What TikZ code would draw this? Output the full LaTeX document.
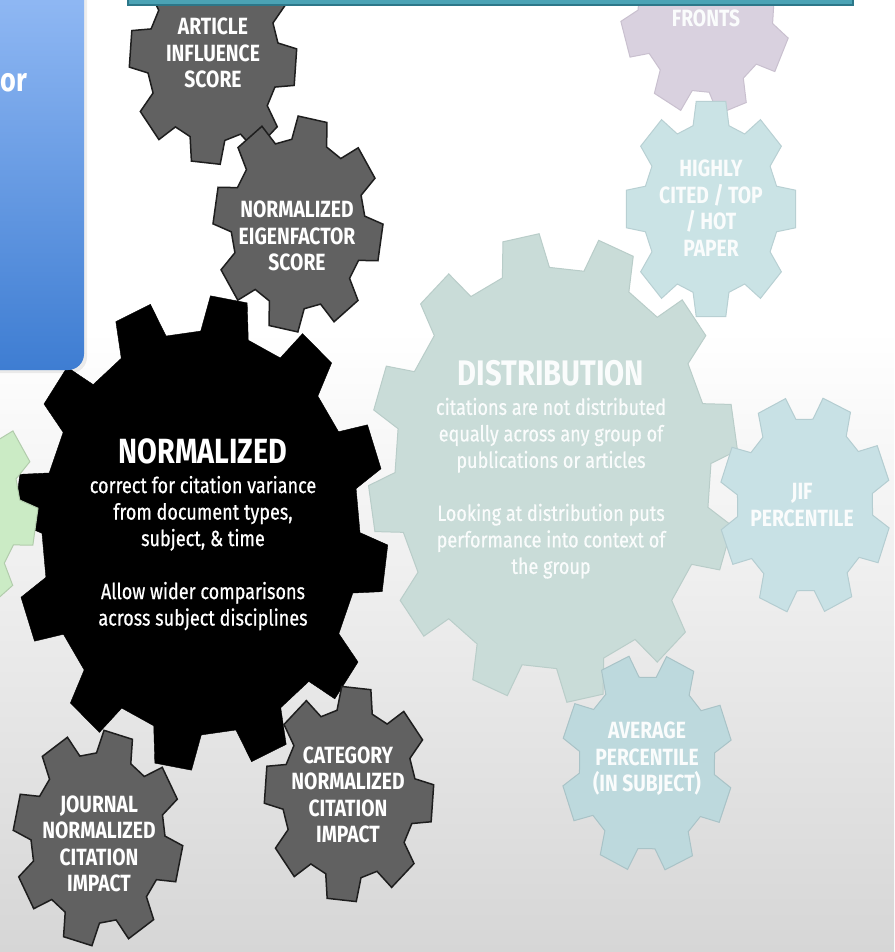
\documentclass[tikz,border=0pt]{standalone}
\usepackage{fontspec}
\newfontfamily\cogfont{Fira Sans}[FakeStretch=0.82]
\newfontfamily\cogbody{Fira Sans}[FakeStretch=0.82,FakeBold=0.6]
\usepackage{tikz}

\definecolor{bgbottom}{HTML}{D6D6D6}
\definecolor{boxtop}{HTML}{95BCF6}
\definecolor{boxbot}{HTML}{3E7DD2}
\definecolor{barfill}{HTML}{4BA3B5}
\definecolor{barline}{HTML}{2C7789}
\definecolor{cogdark}{HTML}{616161}
\definecolor{cogline}{HTML}{1E1E1E}
\definecolor{distfill}{HTML}{C9DCD8}
\definecolor{distline}{HTML}{B9CDC9}
\definecolor{hotfill}{HTML}{CAE3E5}
\definecolor{hotline}{HTML}{B8D0D3}
\definecolor{jiffill}{HTML}{C8E1E5}
\definecolor{jifline}{HTML}{B4CDD1}
\definecolor{avgfill}{HTML}{BDD9DD}
\definecolor{avgline}{HTML}{A9C3C7}
\definecolor{frontsfill}{HTML}{D9D1DF}
\definecolor{frontsline}{HTML}{C9C0CF}
\definecolor{greenfill}{HTML}{CBEBC5}
\definecolor{greenline}{HTML}{B2CCAC}
\definecolor{paletext}{HTML}{FAFCFC}

% cog: style, centre, teeth, outer radius, tooth depth, turn
\newcommand{\drawcog}[6]{%
  \begin{scope}[shift={#2},yscale=1.27]
    \pgfmathsetmacro{\cogpitch}{360/#3}
    \pgfmathsetmacro{\cogin}{#4-#5}
    \pgfmathsetmacro{\cogtip}{(#3>10 ? 0.19 : 0.22)*\cogpitch}
    \pgfmathsetmacro{\cogbase}{(#3>10 ? 0.29 : 0.34)*\cogpitch}
    \draw[#1] ({#6-\cogbase}:\cogin)
      \foreach \k in {1,...,#3}{
        -- ({#6+(\k-1)*\cogpitch-\cogbase}:\cogin)
        -- ({#6+(\k-1)*\cogpitch-\cogtip}:#4)
        -- ({#6+(\k-1)*\cogpitch+\cogtip}:#4)
        -- ({#6+(\k-1)*\cogpitch+\cogbase}:\cogin)
      } -- cycle;
  \end{scope}}

\begin{document}
\begin{tikzpicture}[x=1pt,y=-1pt]
\tikzstyle{greycog}=[fill=cogdark,draw=cogline,line width=1.5pt]
\tikzstyle{blackcog}=[fill=black,draw=black]
\tikzstyle{palecog}=[line width=1pt]
\tikzstyle{smalltext}=[font=\cogfont\bfseries\fontsize{23.5}{26.5}\selectfont,align=center,inner sep=0pt,text=white]
\tikzstyle{bigtext}=[font=\cogbody\fontsize{22}{26.5}\selectfont,align=center,inner sep=0pt,anchor=north]
\useasboundingbox (0,0) rectangle (894,952);
\clip (0,0) rectangle (894,952);
% background
\fill[white] (0,0) rectangle (894,330);
\shade[top color=white,bottom color=bgbottom] (0,330) rectangle (894,952);
% cogs
\drawcog{greycog}{(213,58)}{8}{84}{18}{5}
\drawcog{greycog}{(298,224)}{8}{85}{18}{10}
\drawcog{palecog,fill=frontsfill,draw=frontsline}{(706,6)}{8}{86}{18}{27}
\drawcog{palecog,fill=hotfill,draw=hotline}{(711,209)}{8}{86}{18}{0}
\drawcog{blackcog}{(201,533)}{12}{187}{28}{8.6}
\drawcog{palecog,fill=distfill,draw=distline}{(553,468)}{12}{185}{27}{20}
\drawcog{palecog,fill=jiffill,draw=jifline}{(805,505)}{8}{86}{18}{22}
\drawcog{palecog,fill=avgfill,draw=avgline}{(647,763)}{8}{86}{18}{23}
\drawcog{greycog}{(98,838)}{8}{85}{18}{14}
\drawcog{greycog}{(349,794)}{8}{85}{18}{5}
\drawcog{palecog,fill=greenfill,draw=greenline}{(-48,508)}{8}{86}{18}{10}
% box and bar
\fill[black,opacity=0.07,rounded corners=16pt] (-30,-30) rectangle (87,373);
\shade[top color=boxtop,bottom color=boxbot,rounded corners=16pt] (-30,-30) rectangle (84,370);
\fill[barfill,draw=barline,line width=2pt] (128,-20) rectangle (853,5);
% texts
\node[font=\cogfont\bfseries\fontsize{33}{36}\selectfont,text=white,anchor=base west,inner sep=0pt] (boxword) at (0.5,92) {or};
\node[smalltext] (article) at (213,53) {ARTICLE\\INFLUENCE\\SCORE};
\node[smalltext] (eigen) at (297,236) {NORMALIZED\\EIGENFACTOR\\SCORE};
\node[smalltext,text=paletext] (fronts) at (706,18.5) {FRONTS};
\node[smalltext,text=paletext] (hot) at (711,208) {HIGHLY\\CITED / TOP\\/ HOT\\PAPER};
\node[smalltext,text=paletext] (jif) at (802,505) {JIF\\PERCENTILE};
\node[smalltext,text=paletext] (avg) at (647,759) {AVERAGE\\PERCENTILE\\(IN SUBJECT)};
\node[smalltext] (journal) at (99,844) {JOURNAL\\NORMALIZED\\CITATION\\IMPACT};
\node[smalltext] (category) at (348,795) {CATEGORY\\NORMALIZED\\CITATION\\IMPACT};
\node[bigtext,text=white] (normalized) at (203,438) {{\cogfont\bfseries\fontsize{35}{26.5}\selectfont NORMALIZED}\\[3.5pt]correct for citation variance\\from document types,\\subject, \& time\\[26.5pt]Allow wider comparisons\\across subject disciplines};
\node[bigtext,text=paletext] (distribution) at (551,360) {{\cogfont\bfseries\fontsize{35.5}{26.5}\selectfont DISTRIBUTION}\\[3pt]citations are not distributed\\equally across any group of\\publications or articles\\[26.5pt]Looking at distribution puts\\performance into context of\\the group};
\end{tikzpicture}
\end{document}
